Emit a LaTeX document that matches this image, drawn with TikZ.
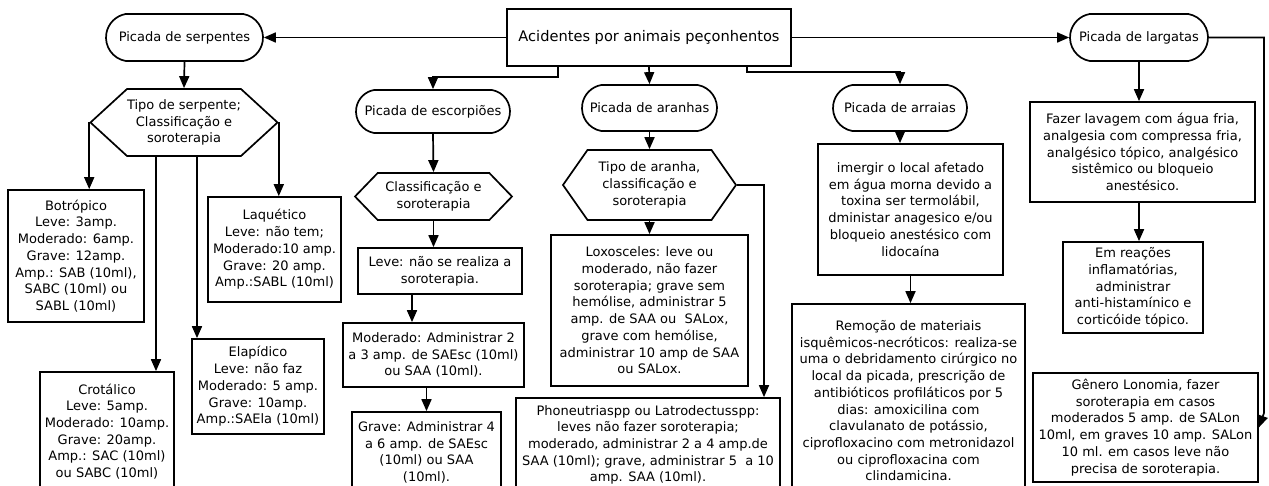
\documentclass[tikz,border=0pt]{standalone}
\usepackage{fontspec}
\setmainfont{DejaVu Sans}
\usepackage{tikz}
\usetikzlibrary{arrows,arrows.meta}
\usetikzlibrary{shapes, shapes.misc, shapes.symbols}
\tikzset{
    txtBox/.style args={#1 #2}{
        draw, rectangle, minimum width=#1, minimum height=#2, inner sep=0pt
    },
    pill/.style args={#1 #2}{
        draw, rounded rectangle, rounded rectangle arc length=160,
        minimum width=#1, minimum height=#2, inner sep=0pt
    },
    hexa/.style args={#1 #2 #3}{
        draw, signal, signal to=east and west, signal pointer angle=#3,
        minimum width=#1, minimum height=#2, inner sep=0pt
    },
    flow/.style={
        line width=1.7pt, -{Triangle[length=12pt,width=10pt]}
    }
}

\begin{document}
\begin{tikzpicture}[x=1pt, y=-1pt]
    \tikzstyle{every node}=[font=\fontsize{13}{16.7}\selectfont, align=center, line width=1.7pt];
    \clip (0,0) rectangle (1269,486);
    \fill[white] (0,0) rectangle (1269,486);
    \node[txtBox={284pt 57pt}, font=\fontsize{14.6}{17}\selectfont] (acid) at (649,37.5) {Acidentes por animais peçonhentos};
    % serpentes
    \node[pill={157pt 47pt}] (serp) at (184.5,37.5) {Picada de serpentes};
    \node[hexa={184pt 67pt 85}] (hexS) at (184,122.5) {Tipo de serpente;\\Classificação e\\soroterapia};
    \node[txtBox={136pt 132pt}] (botr) at (76,256) {Botrópico\\Leve: 3amp.\\Moderado: 6amp.\\Grave: 12amp.\\Amp.: SAB (10ml),\\SABC (10ml) ou\\SABL (10ml)};
    \node[txtBox={133pt 105pt}] (laq) at (274.5,249.5) {Laquético\\Leve: não tem;\\Moderado:10 amp.\\Grave: 20 amp.\\Amp.:SABL (10ml)};
    \node[txtBox={134pt 119pt}] (crot) at (107,431.5) {Crotálico\\Leve: 5amp.\\Moderado: 10amp.\\Grave: 20amp.\\Amp.: SAC (10ml)\\ou SABC (10ml)};
    \node[txtBox={132pt 95pt}] (elap) at (258,386.5) {Elapídico\\Leve: não faz\\Moderado: 5 amp.\\Grave: 10amp.\\Amp.:SAEla (10ml)};
    % escorpioes
    \node[pill={154pt 43pt}] (esc) at (433,111.5) {Picada de escorpiões};
    \node[hexa={157pt 47pt 92}] (hexE) at (433.5,196.5) {Classificação e\\soroterapia};
    \node[txtBox={164pt 46pt}] (leve) at (440,271) {Leve: não se realiza a\\soroterapia.};
    \node[txtBox={181pt 64pt}] (mod) at (433.5,355) {Moderado: Administrar 2\\a 3 amp. de SAEsc (10ml)\\ou SAA (10ml).};
    \node[txtBox={149pt 81pt}] (grave) at (426.5,452.5) {Grave: Administrar 4\\a 6 amp. de SAEsc\\(10ml) ou SAA\\(10ml).};
    % aranhas
    \node[pill={135pt 46pt}] (aran) at (649.5,108) {Picada de aranhas};
    \node[hexa={173pt 70pt 110}] (hexA) at (649.5,185) {Tipo de aranha,\\classificação e\\soroterapia};
    \node[txtBox={197pt 151pt}] (lox) at (649.5,310.5) {Loxosceles: leve ou\\moderado, não fazer\\soroterapia; grave sem\\hemólise, administrar 5\\amp. de SAA ou\ \ SALox,\\grave com hemólise,\\administrar 10 amp de SAA\\ou SALox.};
    \node[txtBox={264pt 94pt}] (phon) at (648,445) {Phoneutriaspp ou Latrodectusspp:\\leves não fazer soroterapia;\\moderado, administrar 2 a 4 amp.de\\SAA (10ml); grave, administrar 5\ \ a 10\\amp. SAA (10ml).};
    % arraias
    \node[pill={134pt 46pt}] (arr) at (900,108) {Picada de arraias};
    \node[txtBox={185pt 131pt}] (imer) at (910.5,209.5) {imergir o local afetado\\em água morna devido a\\toxina ser termolábil,\\dministar anagesico e/ou\\bloqueio anestésico com\\lidocaína};
    \node[txtBox={233pt 212pt}] (rem) at (908.5,410) {Remoção de materiais\\isquêmicos-necróticos: realiza-se\\uma o debridamento cirúrgico no\\local da picada, prescrição de\\antibióticos profiláticos por 5\\dias: amoxicilina com\\clavulanato de potássio,\\ciprofloxacino com metronidazol\\ou ciprofloxacina com\\clindamicina.\\[2pt]};
    % largatas
    \node[pill={138pt 47pt}] (larg) at (1139,37.5) {Picada de largatas};
    \node[txtBox={225pt 100pt}] (fazer) at (1142.5,152) {Fazer lavagem com água fria,\\analgesia com compressa fria,\\analgésico tópico, analgésico\\sistêmico ou bloqueio\\anestésico.};
    \node[txtBox={140pt 91pt}] (emr) at (1133,287.5) {Em reações\\inflamatórias,\\administrar\\anti-histamínico e\\corticóide tópico.};
    \node[txtBox={225pt 109pt}] (gen) at (1145.5,427.5) {Gênero Lonomia, fazer\\soroterapia em casos\\moderados 5 amp. de SALon\\10ml, em graves 10 amp. SALon\\10 ml. em casos leve não\\precisa de soroterapia.};
    \coordinate (sC) at ([xshift=-28pt]hexS.south);
    \coordinate (sE) at ([xshift=13pt]hexS.south);
    \coordinate (lv) at ([xshift=-28pt]leve.south);
    \coordinate (lgA) at (1264,37.5);
    \coordinate (lgB) at (1264,413);
    \draw[flow] (acid.west) -- (serp.east);
    \draw[flow] (acid.east) -- (larg.west);
    \draw[flow] ([xshift=-91pt]acid.south) |- ([yshift=12pt]esc.north) -- (esc.north);
    \draw[flow] (acid.south) -- (aran.north);
    \draw[flow] ([xshift=98pt]acid.south) |- ([yshift=12pt]arr.north) -- (arr.north);
    \draw[flow] (serp.south) -- (hexS.north);
    \draw[flow] (hexS.west) -- (hexS.west |- botr.north);
    \draw[flow] (hexS.east) -- (hexS.east |- laq.north);
    \draw[flow] (sC) -- (sC |- crot.north);
    \draw[flow] (sE) -- (sE |- elap.north);
    \draw[flow] (esc.south) -- (hexE.north);
    \draw[flow] (hexE.south) -- (hexE.south |- leve.north);
    \draw[flow] (lv) -- (lv |- mod.north);
    \draw[flow] (grave.north |- mod.south) -- (grave.north);
    \draw[flow] (aran.south) -- (hexA.north);
    \draw[flow] (hexA.south) -- (lox.north);
    \draw[flow] (hexA.east) -| ([xshift=116pt]phon.north);
    \draw[flow] (arr.south) -- (arr.south |- imer.north);
    \draw[flow] (imer.south) -- (imer.south |- rem.north);
    \draw[flow] (larg.south) -- (larg.south |- fazer.north);
    \draw[flow] (larg.south |- fazer.south) -- (larg.south |- emr.north);
    \draw[flow] (larg.east) -- (lgA) -- (lgB) -- (gen.east);
\end{tikzpicture}
\end{document}
